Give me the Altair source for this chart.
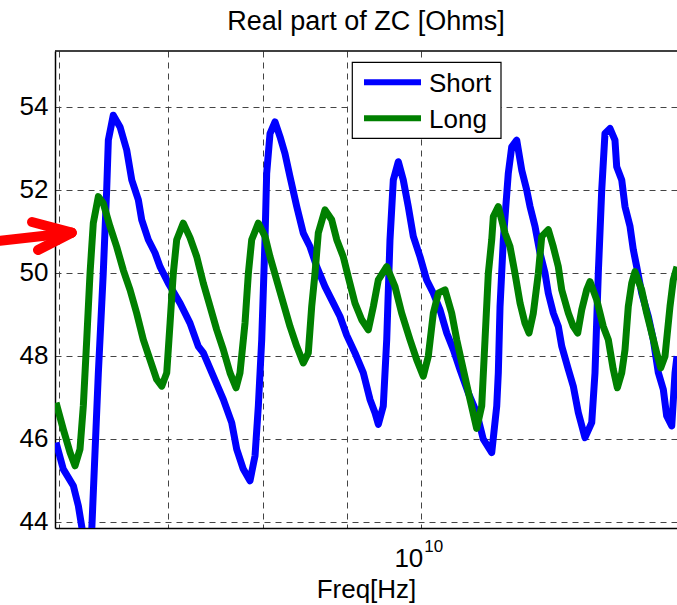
import altair as alt
import pandas as pd

# ---- data (frequency in GHz, real part of ZC in Ohms)
short_f = [5.975, 6.036, 6.122, 6.166, 6.196, 6.233, 6.284, 6.342, 6.386, 6.417,
           6.432, 6.477, 6.539, 6.601, 6.648, 6.710, 6.742, 6.805, 6.870, 6.918,
           7.000, 7.117, 7.217, 7.302, 7.354, 7.458, 7.564, 7.654, 7.708, 7.780,
           7.854, 7.910, 7.947, 7.985, 8.022, 8.041, 8.079, 8.136, 8.194, 8.251,
           8.310, 8.389, 8.467, 8.548, 8.629, 8.730, 8.833, 8.917, 9.001, 9.107,
           9.215, 9.302, 9.368, 9.412, 9.478, 9.524, 9.568, 9.613, 9.681, 9.749,
           9.818, 9.888, 9.982, 10.076, 10.171, 10.267, 10.365, 10.462, 10.561, 10.685,
           10.812, 10.913, 11.044, 11.122, 11.147, 11.174, 11.226, 11.305, 11.360, 11.440,
           11.521, 11.602, 11.657, 11.739, 11.822, 11.905, 11.961, 12.046, 12.131, 12.190,
           12.304, 12.390, 12.478, 12.596, 12.716, 12.775, 12.835, 12.897, 12.956, 13.049,
           13.140, 13.172, 13.266, 13.327, 13.422, 13.484, 13.549, 13.645, 13.773, 13.870,
           13.969, 14.067, 14.134, 14.235, 14.301, 14.341]
short_z = [45.91, 45.27, 44.87, 44.38, 43.87, 43.30, 43.85, 47.59, 49.99, 52.00,
           53.20, 53.80, 53.52, 52.96, 52.24, 51.76, 51.28, 50.80, 50.48, 50.15,
           49.75, 49.27, 48.79, 48.23, 48.07, 47.51, 46.95, 46.39, 45.75, 45.27,
           44.99, 45.59, 46.79, 48.39, 50.80, 52.40, 53.36, 53.64, 53.28, 52.88,
           52.32, 51.60, 50.96, 50.63, 50.15, 49.67, 49.27, 48.95, 48.50, 48.07,
           47.59, 46.95, 46.63, 46.35, 46.79, 48.39, 50.80, 52.24, 52.68, 52.24,
           51.60, 50.88, 50.39, 49.83, 49.51, 49.11, 48.55, 48.15, 47.67, 47.11,
           46.63, 45.99, 45.67, 46.79, 47.59, 49.19, 50.80, 52.40, 53.04, 53.20,
           52.48, 52.00, 51.60, 51.12, 50.48, 50.00, 49.51, 49.03, 48.71, 48.23,
           47.67, 47.27, 46.63, 46.03, 46.39, 47.59, 50.00, 52.00, 53.36, 53.48,
           53.20, 52.56, 52.24, 51.60, 51.12, 50.56, 50.15, 49.51, 48.95, 48.39,
           47.59, 47.19, 46.55, 46.31, 47.59, 47.99]

long_f = [5.975, 6.036, 6.094, 6.137, 6.180, 6.209, 6.239, 6.268, 6.297, 6.342,
          6.386, 6.447, 6.508, 6.569, 6.632, 6.694, 6.757, 6.821, 6.886, 6.935,
          6.984, 7.017, 7.049, 7.083, 7.149, 7.217, 7.286, 7.354, 7.424, 7.494,
          7.564, 7.636, 7.701, 7.744, 7.799, 7.836, 7.873, 7.947, 8.022, 8.079,
          8.155, 8.232, 8.310, 8.389, 8.467, 8.527, 8.568, 8.608, 8.648, 8.730,
          8.813, 8.876, 8.958, 9.022, 9.107, 9.194, 9.280, 9.346, 9.412, 9.524,
          9.636, 9.727, 9.842, 9.935, 10.028, 10.099, 10.171, 10.243, 10.340, 10.438,
          10.512, 10.610, 10.711, 10.812, 10.889, 10.940, 10.991, 11.044, 11.069, 11.147,
          11.253, 11.333, 11.412, 11.494, 11.574, 11.640, 11.711, 11.794, 11.851, 11.961,
          12.046, 12.131, 12.190, 12.304, 12.390, 12.467, 12.538, 12.626, 12.686, 12.806,
          12.925, 13.017, 13.109, 13.184, 13.266, 13.327, 13.389, 13.454, 13.516, 13.645,
          13.741, 13.839, 13.936, 14.016, 14.100, 14.200, 14.266, 14.341]
long_z = [46.87, 46.23, 45.67, 45.35, 45.75, 46.79, 48.39, 49.99, 51.20, 51.84,
          51.68, 51.12, 50.63, 50.07, 49.59, 49.03, 48.39, 47.91, 47.43, 47.27,
          47.59, 48.79, 49.99, 50.80, 51.20, 50.85, 50.39, 49.75, 49.19, 48.63,
          48.15, 47.59, 47.23, 47.59, 48.79, 49.99, 50.80, 51.20, 50.88, 50.39,
          49.83, 49.27, 48.71, 48.23, 47.83, 48.07, 49.19, 49.99, 50.96, 51.52,
          51.28, 50.80, 50.39, 49.90, 49.27, 48.87, 48.63, 49.19, 49.83, 50.15,
          49.67, 49.03, 48.39, 47.91, 47.51, 47.99, 49.03, 49.51, 49.59, 49.03,
          48.39, 47.67, 46.95, 46.25, 46.79, 48.39, 49.99, 50.80, 51.36, 51.60,
          50.96, 50.63, 49.99, 49.27, 48.79, 48.55, 49.03, 49.99, 50.88, 51.04,
          50.63, 50.15, 49.59, 49.03, 48.71, 48.55, 49.11, 49.59, 49.79, 49.35,
          48.71, 48.39, 47.67, 47.23, 47.59, 48.15, 49.19, 49.75, 50.03, 49.59,
          49.03, 48.55, 48.07, 47.71, 47.99, 49.19, 49.83, 50.15]

series_names = ["Short", "Long"]
series_colors = ["#0000ff", "#008000"]
grid_x_ghz = [6, 7, 8, 9, 10]
y_ticks = [44, 46, 48, 50, 52, 54]
x_domain_ghz = [5.966, 14.341]
y_domain = [43.85, 55.35]
title_text = "Real part of ZC [Ohms]"
x_title = "Freq[Hz]"

short_df = pd.DataFrame({"freq": [f * 1e9 for f in short_f], "zc": short_z})
long_df = pd.DataFrame({"freq": [f * 1e9 for f in long_f], "zc": long_z})
tick_df = pd.DataFrame({"freq": [1e10], "base": ["10"], "exp": ["10"]})
one = alt.Data(values=[{}])

FONT = "Liberation Sans"
W, H = 622, 477

xscale = alt.Scale(type="log", domain=[v * 1e9 for v in x_domain_ghz], nice=False)
yscale = alt.Scale(domain=y_domain, nice=False, zero=False)

x_enc = alt.X("freq:Q", scale=xscale, axis=alt.Axis(
    values=[v * 1e9 for v in grid_x_ghz], labels=False, ticks=False, grid=True,
    gridDash=[6, 5], gridColor="#444444", gridWidth=1, domainColor="black", domainWidth=1.5,
    title=x_title, titleFont=FONT, titleFontSize=26, titleFontWeight="normal",
    titleColor="black", titleBaseline="alphabetic", titleY=69.7, titleX=W / 2))
y_enc = alt.Y("zc:Q", scale=yscale, axis=alt.Axis(
    values=y_ticks, ticks=False, tickSize=0, labelPadding=7, labelFont=FONT,
    labelFontSize=26, labelColor="black", labelFlush=False, grid=True, gridDash=[6, 5],
    gridColor="#444444", gridWidth=1, domainColor="black", domainWidth=1.5, title=None))

short_line = alt.Chart(short_df).mark_line(
    color=series_colors[0], strokeWidth=7, clip=True, strokeJoin="round"
).encode(x=x_enc, y=y_enc)
long_line = alt.Chart(long_df).mark_line(
    color=series_colors[1], strokeWidth=7, clip=True, strokeJoin="round"
).encode(x=x_enc, y=y_enc)

top_border = alt.Chart(one).mark_rule(color="black", strokeWidth=1.5).encode(
    x=alt.value(0), x2=alt.value(W), y=alt.value(0))

# legend box
leg_box = alt.Chart(one).mark_rect(fill="white", stroke="black", strokeWidth=1.2).encode(
    x=alt.value(297.3), x2=alt.value(446), y=alt.value(11.3), y2=alt.value(87.3))
leg_lines = []
leg_texts = []
for i, (name, col) in enumerate(zip(series_names, series_colors)):
    yc = 31.3 + 36 * i
    leg_lines.append(alt.Chart(one).mark_rule(color=col, strokeWidth=6).encode(
        x=alt.value(309), x2=alt.value(366), y=alt.value(yc)))
    leg_texts.append(alt.Chart(one).mark_text(
        text=name, font=FONT, fontSize=26, align="left", baseline="alphabetic", color="black"
    ).encode(x=alt.value(374), y=alt.value(yc + 10)))

# 10^10 tick label (shares the x encoding so the axis stays merged)
base_lbl = alt.Chart(tick_df).mark_text(
    align="right", baseline="alphabetic", font=FONT, fontSize=26, color="black", dx=2
).encode(x=x_enc, y=alt.value(515.7), text="base:N")
exp_lbl = alt.Chart(tick_df).mark_text(
    align="left", baseline="alphabetic", font=FONT, fontSize=17, color="black", dx=3
).encode(x=x_enc, y=alt.value(501), text="exp:N")

# red annotation arrow (left of the plot)
arrow = []
for (x1, y1) in [(-55, 189.7), (-23, 171), (-17, 199)]:
    arrow.append(alt.Chart(one).mark_rule(color="red", strokeWidth=10, strokeCap="round").encode(
        x=alt.value(x1), y=alt.value(y1), x2=alt.value(16.7), y2=alt.value(181.7)))

# chart title drawn as a text mark centred over the plot area
title_mark = alt.Chart(one).mark_text(
    text=title_text, font=FONT, fontSize=27, align="center", baseline="alphabetic", color="black"
).encode(x=alt.value(W / 2), y=alt.value(-21))

chart = alt.layer(
    short_line, long_line, top_border, leg_box, *leg_lines, *leg_texts,
    base_lbl, exp_lbl, *arrow, title_mark
).properties(
    width=W, height=H,
    autosize=alt.AutoSizeParams(type="none"),
    padding={"left": 55, "top": 51, "right": 0, "bottom": 77},
    background="white",
).configure_view(stroke=None)

chart.save("out.html", embed_options={"renderer": "svg", "actions": False})
